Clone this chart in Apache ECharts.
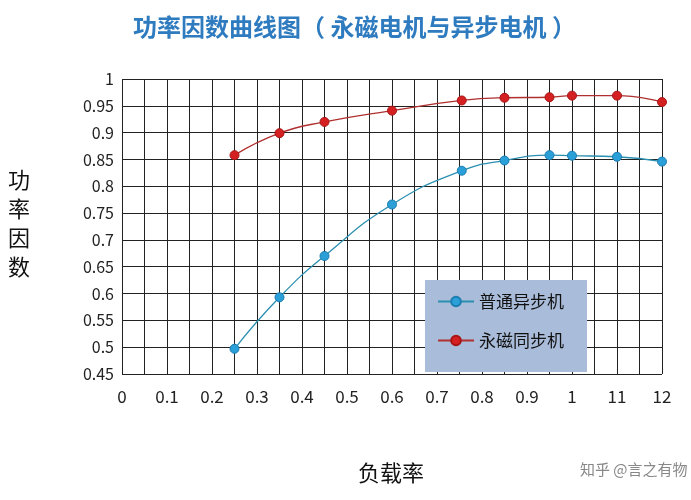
<!DOCTYPE html><html><head><meta charset="utf-8"><script src="https://cdn.jsdelivr.net/npm/echarts@6/dist/echarts.min.js"></script></head><body style="margin:0"><div id="c" style="width:691px;height:500px"></div><script>
const xTickLabels = ['0','0.1','0.2','0.3','0.4','0.5','0.6','0.7','0.8','0.9','1','11','12'];
const load = [0.25,0.35,0.45,0.6,0.755,0.85,0.95,1.0,1.1,1.2];
const asyncPF = [0.497,0.593,0.670,0.766,0.829,0.848,0.858,0.857,0.855,0.846];
const pmPF = [0.858,0.899,0.920,0.941,0.960,0.965,0.966,0.969,0.969,0.957];
const font = '"Noto Sans CJK SC", "Noto Sans", sans-serif';
const ch = echarts.init(document.getElementById('c'));
ch.setOption({
  backgroundColor:'#fff',
  title:{text:'功率因数曲线图（ 永磁电机与异步电机 ）',left:128,top:10,textStyle:{color:'#2e7bbf',fontSize:24,fontWeight:'bold',fontFamily:font}},
  grid:{left:122,right:29,top:79,bottom:126},
  graphic:[
    {type:'rect',left:425,top:280,shape:{width:162,height:92},style:{fill:'#a9bcd9'},z:5},
    {type:'text',left:8,top:165,style:{text:'功\n率\n因\n数',font:'22px '+font,lineHeight:29,fill:'#111'}},
    {type:'text',left:358,top:462,style:{text:'负载率',font:'22px '+font,fill:'#111'}},
    {type:'text',left:580,top:462,style:{text:'知乎 @言之有物',font:'15px '+font,fill:'#888'}}
  ],
  legend:{left:432,top:288,orient:'vertical',itemGap:22,itemWidth:36,itemHeight:12,z:10,
    textStyle:{fontSize:17,fontFamily:font,color:'#111'},
    data:['普通异步机','永磁同步机']},
  xAxis:{type:'value',min:0,max:1.2,interval:0.05,
    axisLine:{show:false},axisTick:{show:false},
    axisLabel:{fontSize:17,color:'#222',margin:14,fontFamily:font,formatter:v=>{const k=Math.round(v*100);return k%10===0?xTickLabels[k/10]:'';}},
    splitLine:{lineStyle:{color:'#222',width:1}}},
  yAxis:{type:'value',min:0.45,max:1,interval:0.05,
    axisLine:{show:false},axisTick:{show:false},
    axisLabel:{fontSize:16,color:'#222',margin:8,fontFamily:font,formatter:v=>String(+v.toFixed(2))},
    splitLine:{lineStyle:{color:'#222',width:1}}},
  series:[
    {name:'普通异步机',type:'line',smooth:true,symbol:'circle',symbolSize:9,z:3,
      itemStyle:{color:'#2a9fd8',borderColor:'#1b7db0',borderWidth:1},lineStyle:{color:'#2a8fb0',width:1.3},
      data:load.map((x,i)=>[x,asyncPF[i]])},
    {name:'永磁同步机',type:'line',smooth:true,symbol:'circle',symbolSize:9,z:3,
      itemStyle:{color:'#d42020',borderColor:'#a81515',borderWidth:1},lineStyle:{color:'#b03030',width:1.3},
      data:load.map((x,i)=>[x,pmPF[i]])}
  ]
});
</script></body></html>
